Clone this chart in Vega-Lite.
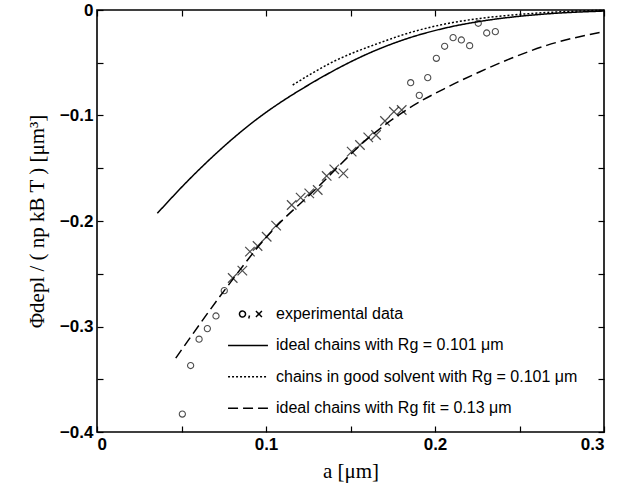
{
  "$schema": "https://vega.github.io/schema/vega-lite/v6.json",
  "width": 507,
  "height": 422,
  "autosize": {"type": "none"},
  "padding": {"left": 97, "top": 10, "right": 14, "bottom": 57},
  "background": "white",
  "config": {
    "view": {"stroke": "black", "strokeWidth": 1.6},
    "font": "Liberation Sans",
    "axis": {"grid": false, "domain": false, "tickColor": "black", "tickWidth": 1.2, "tickSize": -6,
             "labelFont": "Liberation Sans", "labelFontSize": 17, "labelFontWeight": "bold", "labelColor": "black",
             "titleFont": "Liberation Serif", "titleFontWeight": "normal", "titleFontSize": 21, "titleColor": "black"}
  },
  "datasets": {
    "circles": [
      {"a": 0.0505, "v": -0.383}, {"a": 0.0554, "v": -0.337}, {"a": 0.0604, "v": -0.312},
      {"a": 0.0653, "v": -0.302}, {"a": 0.0704, "v": -0.290}, {"a": 0.0753, "v": -0.266},
      {"a": 0.1856, "v": -0.0689}, {"a": 0.1907, "v": -0.0809}, {"a": 0.1957, "v": -0.0641},
      {"a": 0.2008, "v": -0.0458}, {"a": 0.2057, "v": -0.0344}, {"a": 0.2107, "v": -0.0262},
      {"a": 0.2156, "v": -0.0284}, {"a": 0.2205, "v": -0.0338}, {"a": 0.2256, "v": -0.0126},
      {"a": 0.2306, "v": -0.0218}, {"a": 0.2357, "v": -0.0205}
    ],
    "crosses": [
      {"a": 0.0803, "v": -0.254}, {"a": 0.0860, "v": -0.247}, {"a": 0.0905, "v": -0.229},
      {"a": 0.0950, "v": -0.2237}, {"a": 0.1004, "v": -0.2149}, {"a": 0.1060, "v": -0.2044},
      {"a": 0.1152, "v": -0.1848}, {"a": 0.1205, "v": -0.1779}, {"a": 0.1256, "v": -0.1738},
      {"a": 0.1306, "v": -0.1706}, {"a": 0.1359, "v": -0.1573}, {"a": 0.1404, "v": -0.1510},
      {"a": 0.1458, "v": -0.1548}, {"a": 0.1507, "v": -0.1343}, {"a": 0.1556, "v": -0.1280},
      {"a": 0.1605, "v": -0.1207}, {"a": 0.1651, "v": -0.1185}, {"a": 0.1704, "v": -0.1052},
      {"a": 0.1757, "v": -0.0964}, {"a": 0.1803, "v": -0.0948}
    ],
    "curves": [
      {"series": "ideal chains with Rg = 0.101 μm", "a": 0.0357, "v": -0.1927},
      {"series": "ideal chains with Rg = 0.101 μm", "a": 0.054, "v": -0.1615},
      {"series": "ideal chains with Rg = 0.101 μm", "a": 0.0905, "v": -0.1085},
      {"series": "ideal chains with Rg = 0.101 μm", "a": 0.13, "v": -0.0665},
      {"series": "ideal chains with Rg = 0.101 μm", "a": 0.1675, "v": -0.0365},
      {"series": "ideal chains with Rg = 0.101 μm", "a": 0.1872, "v": -0.0252},
      {"series": "ideal chains with Rg = 0.101 μm", "a": 0.2069, "v": -0.0168},
      {"series": "ideal chains with Rg = 0.101 μm", "a": 0.2266, "v": -0.0108},
      {"series": "ideal chains with Rg = 0.101 μm", "a": 0.2463, "v": -0.0066},
      {"series": "ideal chains with Rg = 0.101 μm", "a": 0.266, "v": -0.0037},
      {"series": "ideal chains with Rg = 0.101 μm", "a": 0.3, "v": -0.001},
      {"series": "chains in good solvent with Rg = 0.101 μm", "a": 0.1158, "v": -0.0711},
      {"series": "chains in good solvent with Rg = 0.101 μm", "a": 0.1398, "v": -0.0490},
      {"series": "chains in good solvent with Rg = 0.101 μm", "a": 0.1675, "v": -0.0310},
      {"series": "chains in good solvent with Rg = 0.101 μm", "a": 0.1872, "v": -0.0205},
      {"series": "chains in good solvent with Rg = 0.101 μm", "a": 0.2069, "v": -0.0130},
      {"series": "chains in good solvent with Rg = 0.101 μm", "a": 0.2266, "v": -0.0080},
      {"series": "chains in good solvent with Rg = 0.101 μm", "a": 0.2463, "v": -0.0047},
      {"series": "chains in good solvent with Rg = 0.101 μm", "a": 0.266, "v": -0.0024},
      {"series": "chains in good solvent with Rg = 0.101 μm", "a": 0.3, "v": -0.0003},
      {"series": "ideal chains with Rg fit = 0.13 μm", "a": 0.0466, "v": -0.330},
      {"series": "ideal chains with Rg fit = 0.13 μm", "a": 0.0753, "v": -0.266},
      {"series": "ideal chains with Rg fit = 0.13 μm", "a": 0.1004, "v": -0.2149},
      {"series": "ideal chains with Rg fit = 0.13 μm", "a": 0.1306, "v": -0.168},
      {"series": "ideal chains with Rg fit = 0.13 μm", "a": 0.1605, "v": -0.1215},
      {"series": "ideal chains with Rg fit = 0.13 μm", "a": 0.1842, "v": -0.0935},
      {"series": "ideal chains with Rg fit = 0.13 μm", "a": 0.2069, "v": -0.0735},
      {"series": "ideal chains with Rg fit = 0.13 μm", "a": 0.2266, "v": -0.0585},
      {"series": "ideal chains with Rg fit = 0.13 μm", "a": 0.2463, "v": -0.0450},
      {"series": "ideal chains with Rg fit = 0.13 μm", "a": 0.2661, "v": -0.0335},
      {"series": "ideal chains with Rg fit = 0.13 μm", "a": 0.3, "v": -0.0205}
    ]
  },
  "layer": [
    {
      "layer": [
        {
          "data": {"name": "curves"},
          "mark": {"type": "line", "interpolate": "monotone", "strokeWidth": 1.5, "color": "black"},
          "encoding": {
            "x": {"field": "a", "type": "quantitative", "scale": {"domain": [0, 0.3], "nice": false},
                  "axis": {"orient": "bottom", "values": [0, 0.05, 0.1, 0.15, 0.2, 0.25, 0.3],
                           "labelExpr": "abs(datum.value*10 - round(datum.value*10)) < 0.001 ? format(datum.value, '~g') : ''",
                           "title": "a [μm]", "labelPadding": 10, "titlePadding": 8}},
            "y": {"field": "v", "type": "quantitative", "scale": {"domain": [-0.4, 0], "nice": false},
                  "axis": {"orient": "left", "values": [-0.4, -0.35, -0.3, -0.25, -0.2, -0.15, -0.1, -0.05, 0],
                           "labelExpr": "abs(datum.value*10 - round(datum.value*10)) < 0.001 ? format(datum.value, '~g') : ''",
                           "title": "Φdepl / ( np kB T ) [μm³]", "labelPadding": 10, "titlePadding": 12}},
            "detail": {"field": "series"},
            "strokeDash": {
              "field": "series", "type": "nominal",
              "scale": {"domain": ["experimental data", "ideal chains with Rg = 0.101 μm", "chains in good solvent with Rg = 0.101 μm", "ideal chains with Rg fit = 0.13 μm"],
                        "range": [[1, 0], [1, 0], [2, 2], [10, 5]]},
              "legend": {
                "title": null, "orient": "none", "legendX": 135, "legendY": 288,
                "symbolSize": 900, "symbolStrokeWidth": 1.5, "symbolStrokeColor": "black", "symbolFillColor": "transparent",
                "labelFont": "Liberation Sans", "labelFontSize": 16, "labelColor": "black", "labelOffset": 12, "rowPadding": 7.4, "labelLimit": 400,
                "encode": {"symbols": {"update": {"shape": {"signal": "datum.value === 'experimental data' ? 'M-0.567,0A0.2,0.2 0 1,0 -0.167,0A0.2,0.2 0 1,0 -0.567,0M0.1,0.1L0.05,0.3M0.53,-0.2L0.93,0.2M0.53,0.2L0.93,-0.2' : 'M-1.33,0H1.33'"}}}}
              }
            }
          }
        },
        {
          "data": {"name": "circles"},
          "mark": {"type": "point", "shape": "circle", "filled": false, "color": "black", "strokeWidth": 1.1, "size": 38},
          "encoding": {
            "x": {"field": "a", "type": "quantitative"},
            "y": {"field": "v", "type": "quantitative"}
          }
        },
        {
          "data": {"name": "crosses"},
          "mark": {"type": "point", "shape": "M-1,-1L1,1M1,-1L-1,1", "filled": false, "color": "black", "strokeWidth": 1.2, "size": 90},
          "encoding": {
            "x": {"field": "a", "type": "quantitative"},
            "y": {"field": "v", "type": "quantitative"}
          }
        }
      ]
    },
    {
      "data": {"name": "circles"},
      "mark": {"type": "point", "opacity": 0},
      "encoding": {
        "x": {"field": "a", "type": "quantitative", "scale": {"domain": [0, 0.3], "nice": false},
              "axis": {"orient": "top", "values": [0, 0.05, 0.1, 0.15, 0.2, 0.25, 0.3], "labels": false, "title": null}},
        "y": {"field": "v", "type": "quantitative", "scale": {"domain": [-0.4, 0], "nice": false},
              "axis": {"orient": "right", "values": [-0.4, -0.35, -0.3, -0.25, -0.2, -0.15, -0.1, -0.05, 0], "labels": false, "title": null}}
      }
    }
  ],
  "resolve": {"scale": {"x": "independent", "y": "independent"}}
}
